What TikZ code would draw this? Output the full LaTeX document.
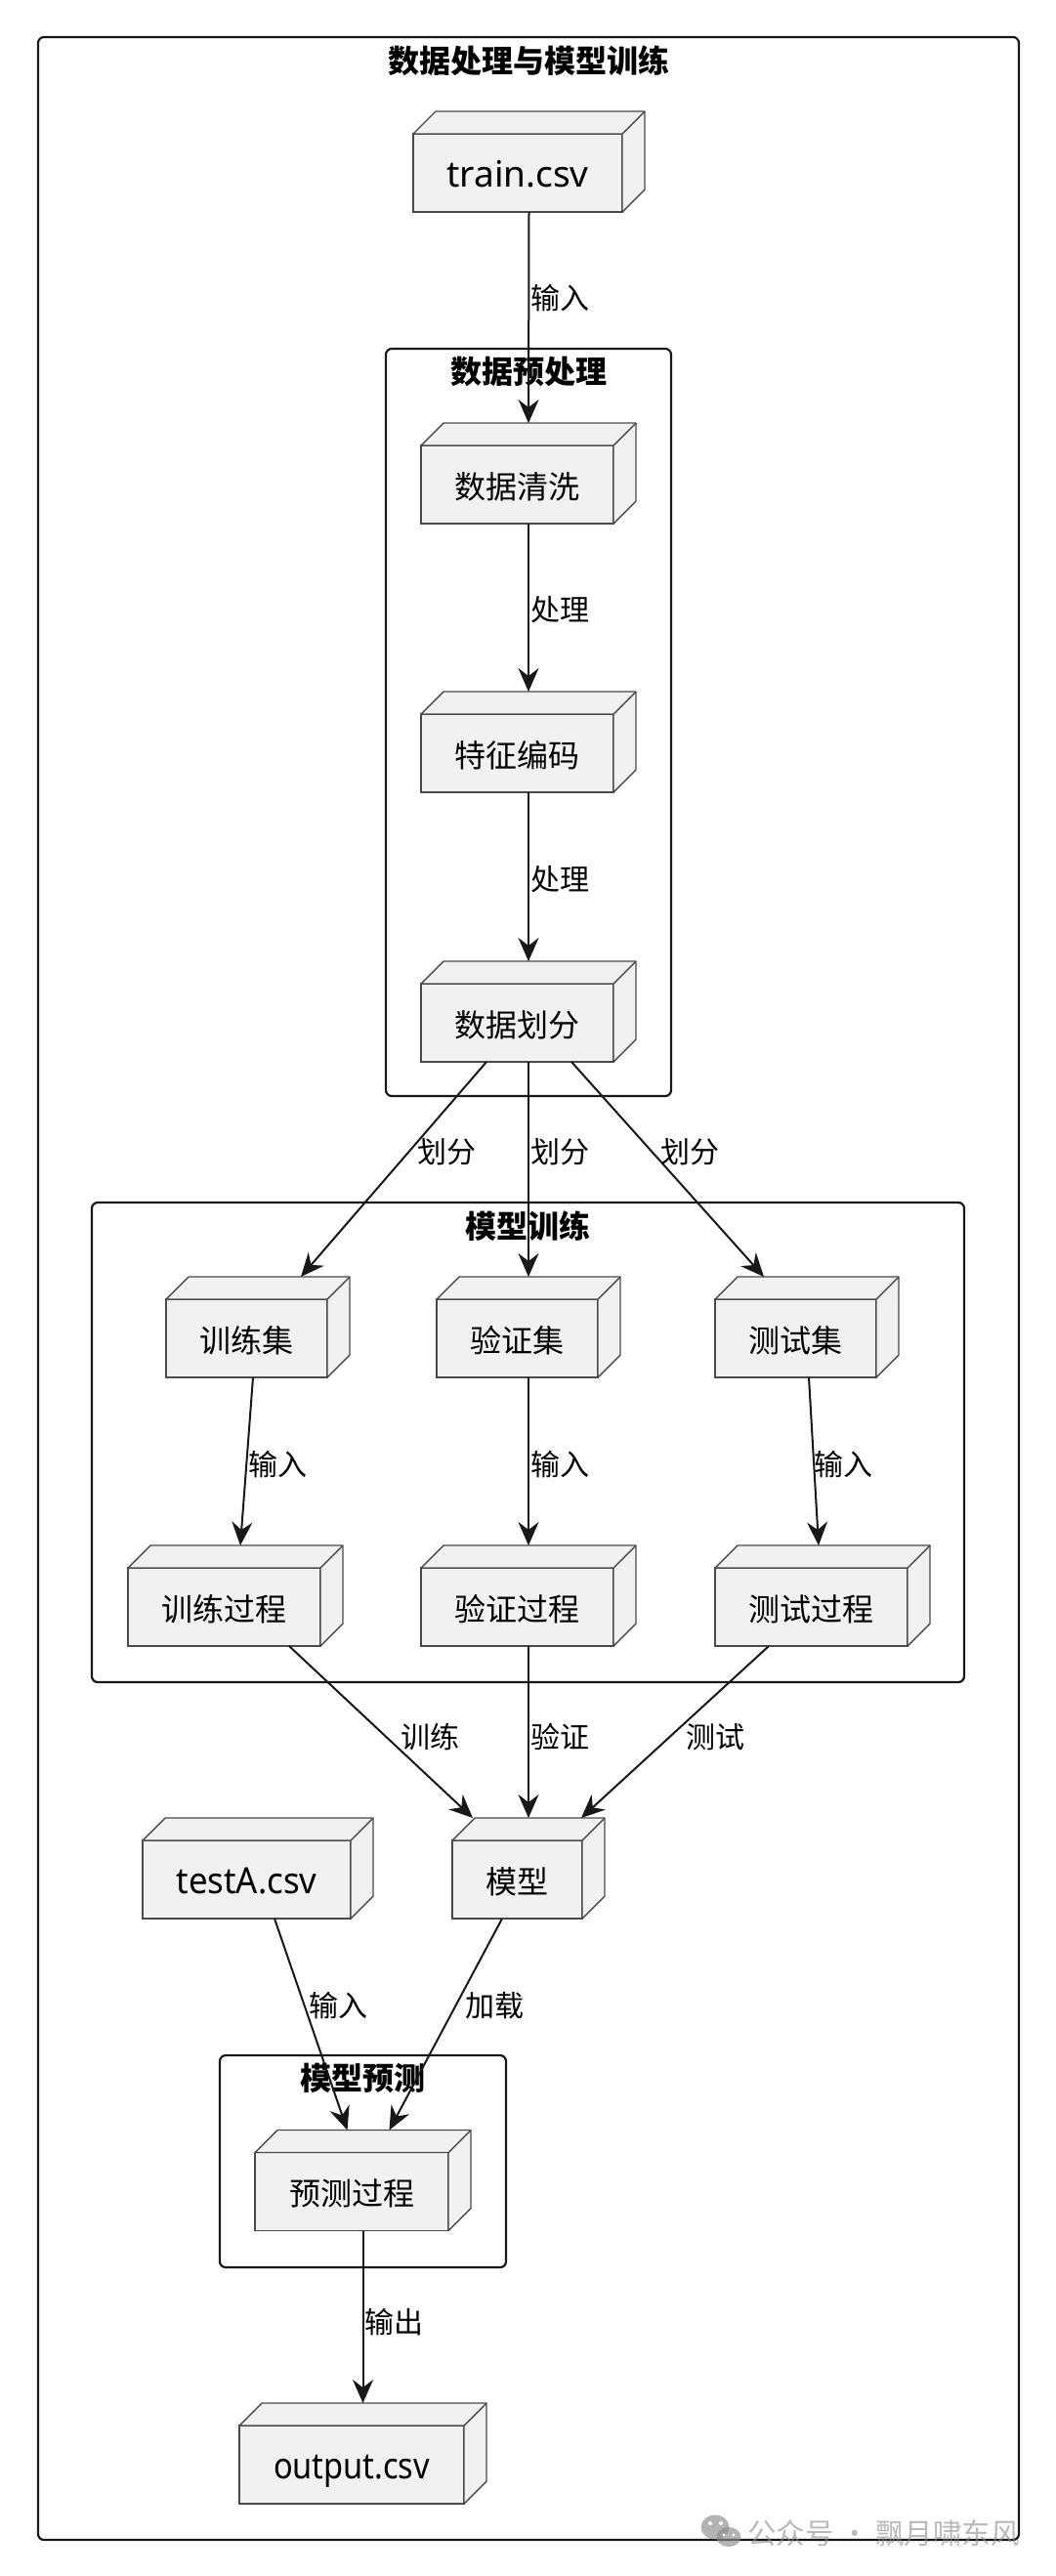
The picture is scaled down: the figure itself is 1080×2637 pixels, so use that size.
\documentclass[tikz,border=0pt]{standalone}
\usepackage{fontspec}
\usepackage{graphicx}
\setmainfont{Noto Sans CJK SC}
\newfontfamily\latinfont{Noto Sans}
\usepackage{tikz}
\usetikzlibrary{arrows.meta,positioning,calc}
\definecolor{boxfill}{HTML}{F1F1F1}
\definecolor{boxline}{HTML}{4A4A4A}
\definecolor{ink}{HTML}{181818}
\definecolor{wmgray}{HTML}{8C8C8C}
\tikzset{
  boxnode/.style={draw=boxline,fill=boxfill,line width=1.4pt,inner sep=0pt,outer sep=0pt,minimum height=80pt,text height=32pt,text depth=4pt,font=\fontsize{32}{36}\selectfont},
  csvnode/.style={boxnode,font=\latinfont\fontsize{37}{40}\selectfont},
  boxface/.style={draw=boxline,fill=boxfill,line width=1.4pt,line join=round},
  group/.style={draw=ink,fill=white,line width=2.2pt,rounded corners=6pt},
  grouptitle/.style={font=\fontsize{32}{36}\selectfont\bfseries,inner sep=0pt},
  flow/.style={draw=ink,line width=2pt,-{Stealth[length=24pt,width=21pt,inset=8pt]}},
  flowlabel/.style={font=\fontsize{30}{33}\selectfont,text=black,inner sep=0pt},
}
\begin{document}
\begin{tikzpicture}[x=1pt,y=-1pt]
\useasboundingbox (0,0) rectangle (1080,2637);
% frames
\draw[group] (39,38) rectangle (1043,2600);
\draw[group] (395,357) rectangle (687,1122);
\draw[group] (94,1231) rectangle (987,1722);
\draw[group] (225,2104) rectangle (518,2321);
\node[grouptitle] (maintitle) at (541,62) {数据处理与模型训练};
\node[grouptitle] (preptitle) at (541,380) {数据预处理};
\node[grouptitle] (traintitle) at (540,1255) {模型训练};
\node[grouptitle] (predtitle) at (371,2127) {模型预测};
% boxes
\node[csvnode,minimum width=214pt] (train) at (530,177) {train.csv};
\node[boxnode,minimum width=197pt] (clean) at (529.5,496) {数据清洗};
\node[boxnode,minimum width=197pt] (encode) at (529.5,771) {特征编码};
\node[boxnode,minimum width=197pt] (split) at (529.5,1047) {数据划分};
\node[boxnode,minimum width=165pt] (trainset) at (252.5,1370) {训练集};
\node[boxnode,minimum width=165pt] (valset) at (529.5,1370) {验证集};
\node[boxnode,minimum width=165pt] (testset) at (814.5,1370) {测试集};
\node[boxnode,minimum width=197pt] (trainrun) at (229.5,1645) {训练过程};
\node[boxnode,minimum width=197pt] (valrun) at (529.5,1645) {验证过程};
\node[boxnode,minimum width=197pt] (testrun) at (830.5,1645) {测试过程};
\node[boxnode,minimum width=133pt] (model) at (529.5,1924) {模型};
\node[csvnode,minimum width=213pt] (testa) at (252.5,1924) {\scalebox{.94}[1]{testA.csv}};
\node[boxnode,minimum width=198pt] (predict) at (360,2243.5) {预测过程};
\node[csvnode,minimum width=230pt] (output) at (360,2523) {\scalebox{.88}[1]{output.csv}};
\foreach \n in {train,clean,encode,split,trainset,valset,testset,trainrun,valrun,testrun,model,testa,predict,output} {
  \draw[boxface] (\n.north west) -- ++(23,-23) -- ($(\n.north east)+(23,-23)$) -- ($(\n.south east)+(23,-23)$) -- (\n.south east) -- (\n.north east) -- cycle;
  \draw[boxface] (\n.north east) -- ++(23,-23);
  \coordinate (\n-top) at ($(\n.north)+(11.5,-23)$);
  \coordinate (\n-bot) at ($(\n.south)+(11.5,0)$);
}
% connectors
\draw[flow] (train-bot) -- (clean-top) node[flowlabel] (l1) at (573,305) {输入};
\draw[flow] (clean-bot) -- (encode-top) node[flowlabel] (l2) at (573,624) {处理};
\draw[flow] (encode-bot) -- (split-top) node[flowlabel] (l3) at (573,900) {处理};
\draw[flow] ([xshift=-43pt]split-bot) -- ([xshift=44pt]trainset-top) node[flowlabel] (l4) at (457,1179) {划分};
\draw[flow] (split-bot) -- (valset-top) node[flowlabel] (l5) at (573,1179) {划分};
\draw[flow] ([xshift=44pt]split-bot) -- ([xshift=-44pt]testset-top) node[flowlabel] (l6) at (706,1179) {划分};
\draw[flow] ([xshift=-5pt]trainset-bot) -- ([xshift=5pt]trainrun-top) node[flowlabel] (l7) at (284,1499) {输入};
\draw[flow] (valset-bot) -- (valrun-top) node[flowlabel] (l8) at (573,1499) {输入};
\draw[flow] ([xshift=2pt]testset-bot) -- ([xshift=-4pt]testrun-top) node[flowlabel] (l9) at (863,1499) {输入};
\draw[flow] ([xshift=55pt]trainrun-bot) -- ([xshift=-57pt]model-top) node[flowlabel] (l10) at (440,1778) {训练};
\draw[flow] (valrun-bot) -- (model-top) node[flowlabel] (l11) at (573,1778) {验证};
\draw[flow] ([xshift=-55pt]testrun-bot) -- ([xshift=54pt]model-top) node[flowlabel] (l12) at (732,1778) {测试};
\draw[flow] ([xshift=17pt]testa-bot) -- ([xshift=-16pt]predict-top) node[flowlabel] (l13) at (346,2053) {输入};
\draw[flow] ([xshift=-27pt]model-bot) -- ([xshift=27pt]predict-top) node[flowlabel] (l14) at (506,2053) {加载};
\draw[flow] (predict-bot) -- (output-top) node[flowlabel] (l15) at (403,2377) {输出};
% watermark
\fill[wmgray,opacity=.65] (732,2587) ellipse (14.5pt and 12.5pt);
\fill[white] (727,2583) circle (2pt) (738,2583) circle (2pt);
\fill[wmgray,opacity=.65] (746,2597) ellipse (12.5pt and 10pt);
\fill[white] (741,2595) circle (1.6pt) (751,2595) circle (1.6pt);
\node[font=\fontsize{29.5}{34}\selectfont,text=wmgray,text opacity=.6,inner sep=0pt,anchor=east] (wmark) at (1044,2593) {公众号 · 飘月啸东风};
\end{tikzpicture}
\end{document}
